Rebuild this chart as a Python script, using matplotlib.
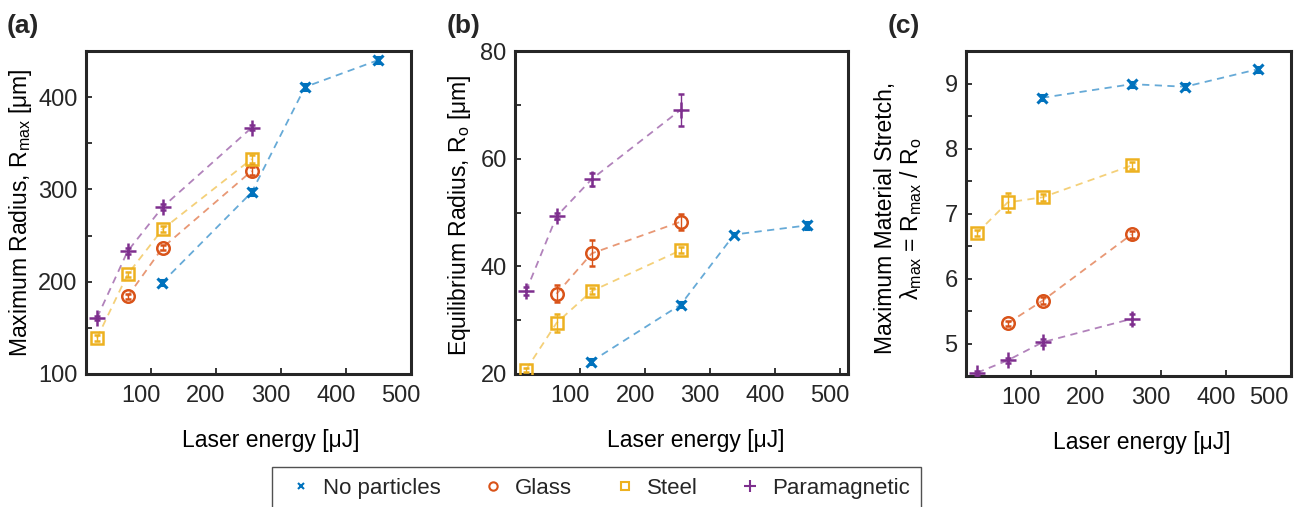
import numpy as np
import matplotlib
matplotlib.use('Agg')
import matplotlib.pyplot as plt
import matplotlib.transforms as mtransforms
from matplotlib.lines import Line2D
from matplotlib.ticker import MultipleLocator

plt.rcParams['font.family'] = ['Liberation Sans', 'DejaVu Sans']
plt.rcParams['mathtext.fontset'] = 'custom'
plt.rcParams['mathtext.rm'] = 'Liberation Sans'
plt.rcParams['mathtext.it'] = 'Liberation Sans:italic'
plt.rcParams['mathtext.bf'] = 'Liberation Sans:bold'
plt.rcParams['text.color'] = '#262626'
plt.rcParams['xtick.color'] = '#262626'
plt.rcParams['ytick.color'] = '#262626'

## Data

series_names = ['No particles', 'Glass', 'Steel', 'Paramagnetic']
colors = ['#0072BD', '#D95319', '#EDB120', '#7E2F8E']
markers = ['x', 'o', 's', '+']
msizes = [7, 9, 8, 11]

# laser energy [uJ]
e_none = [117, 255, 337, 449]
e_glass = [64, 118, 255]
e_steel = [17, 64, 118, 255]
e_para = [17, 64, 118, 255]

# (a) maximum radius [um]
rmax_none = [199, 297, 411, 440]
rmax_glass = [184, 237, 320]
rmax_steel = [139, 208, 257, 333]
rmax_para = [161, 233, 281, 367]
rmax_none_err = [3, 3, 3, 3]
rmax_glass_err = [3, 3, 4]
rmax_steel_err = [3, 3, 3, 4]
rmax_para_err = [2, 3, 3, 3]

# (b) equilibrium radius [um]
r0_none = [22.3, 32.9, 45.9, 47.6]
r0_glass = [34.9, 42.4, 48.3]
r0_steel = [20.8, 29.5, 35.4, 43.0]
r0_para = [35.4, 49.3, 56.2, 69.1]
r0_none_err = [0.4, 0.4, 0.3, 0.6]
r0_glass_err = [1.6, 2.4, 1.5]
r0_steel_err = [0.4, 1.7, 0.6, 0.5]
r0_para_err = [0.7, 0.6, 1.2, 3.0]

# (c) maximum stretch
lam_none = [8.78, 8.99, 8.95, 9.22]
lam_glass = [5.31, 5.66, 6.68]
lam_steel = [6.70, 7.17, 7.25, 7.74]
lam_para = [4.55, 4.74, 5.02, 5.38]
lam_none_err = [0.04, 0.04, 0.04, 0.04]
lam_glass_err = [0.04, 0.05, 0.05]
lam_steel_err = [0.05, 0.15, 0.05, 0.05]
lam_para_err = [0.03, 0.04, 0.05, 0.08]

energies = [e_none, e_glass, e_steel, e_para]

#%% Figure
W, H = 1294, 507
fig = plt.figure(figsize=(W / 100, H / 100), dpi=100)


def px_axes(l, r, t, b):
    return fig.add_axes([l / W, (H - b) / H, (r - l) / W, (b - t) / H])


ax_a = px_axes(86, 411, 51, 374)
ax_b = px_axes(515, 848, 51, 374)
ax_c = px_axes(966, 1291, 51, 376)


def draw_panel(ax, vals, errs):
    for i in range(4):
        ax.plot(energies[i], vals[i], color=colors[i], alpha=0.6, lw=1.3,
                linestyle=(0, (4, 3)), zorder=2)
        ax.errorbar(energies[i], vals[i], yerr=errs[i], fmt=markers[i],
                    color=colors[i], ms=msizes[i],
                    mew=2.2 if markers[i] == 'x' else 1.8, mfc='none',
                    elinewidth=1.0, capsize=2.5, capthick=1.0, zorder=3)


draw_panel(ax_a, [rmax_none, rmax_glass, rmax_steel, rmax_para],
           [rmax_none_err, rmax_glass_err, rmax_steel_err, rmax_para_err])
draw_panel(ax_b, [r0_none, r0_glass, r0_steel, r0_para],
           [r0_none_err, r0_glass_err, r0_steel_err, r0_para_err])
draw_panel(ax_c, [lam_none, lam_glass, lam_steel, lam_para],
           [lam_none_err, lam_glass_err, lam_steel_err, lam_para_err])

ax_a.set_xlim(0, 500)
ax_b.set_xlim(0, 512)
ax_c.set_xlim(0, 500)
ax_a.set_ylim(100, 450)
ax_b.set_ylim(20, 80)
ax_c.set_ylim(4.5, 9.5)

ax_a.set_yticks([100, 200, 300, 400])
ax_a.yaxis.set_minor_locator(MultipleLocator(50))
ax_b.set_yticks([20, 40, 60, 80])
ax_b.yaxis.set_minor_locator(MultipleLocator(10))
ax_c.set_yticks([5, 6, 7, 8, 9])
ax_c.yaxis.set_minor_locator(MultipleLocator(0.5))

shift = mtransforms.ScaledTranslation(-0.10, 0, fig.dpi_scale_trans)
for ax in [ax_a, ax_b, ax_c]:
    ax.set_xticks([100, 200, 300, 400, 500])
    for sp in ax.spines.values():
        sp.set_linewidth(2.2)
        sp.set_color('#262626')
    ax.tick_params(which='both', direction='in', labelsize=17, pad=6,
                   width=1.3, length=4)
    ax.tick_params(axis='x', pad=8)
    for lab in ax.get_xticklabels():
        lab.set_transform(lab.get_transform() + shift)

# last label of (c) is pulled in to stay inside the figure
extra = mtransforms.ScaledTranslation(-0.12, 0, fig.dpi_scale_trans)
lab_last = ax_c.get_xticklabels()[-1]
lab_last.set_transform(lab_last.get_transform() + extra)

# axis labels
for ax, xc in [(ax_a, 0.569), (ax_b, 0.544), (ax_c, 0.541)]:
    ax.set_xlabel('Laser energy [μJ]', fontsize=16.5)
    ax.xaxis.set_label_coords(xc, -0.17)

ax_a.set_ylabel('Maximum Radius, R$_\\mathrm{max}$ [μm]', fontsize=16.5)
ax_b.set_ylabel('Equilibrium Radius, R$_\\mathrm{o}$ [μm]', fontsize=16.5)
ax_c.set_ylabel('Maximum Material Stretch,\nλ$_\\mathrm{max}$ = R$_\\mathrm{max}$ / R$_\\mathrm{o}$',
                fontsize=16.5, linespacing=1.05)
for ax, xc, yc in [(ax_a, -0.203, 0.5), (ax_b, -0.168, 0.49),
                   (ax_c, -0.205, 0.485)]:
    ax.yaxis.label.set_va('center')
    ax.yaxis.set_label_coords(xc, yc)

# panel letters
for xpx, txt in [(7, '(a)'), (447, '(b)'), (888, '(c)')]:
    fig.text(xpx / W, 1 - 26 / H, txt, fontsize=19, fontweight='bold',
             ha='left', va='center')

# legend
handles = [Line2D([], [], ls='none', marker=markers[i], color=colors[i],
                  ms=[5, 6, 6, 8][i], mew=1.5, mfc='none')
           for i in range(4)]
leg = fig.legend(handles, series_names, loc='upper left',
                 bbox_to_anchor=(272 / W, 1 - 467 / H), ncol=4, fontsize=16,
                 frameon=True, fancybox=False, edgecolor='#262626',
                 handlelength=1.6, handletextpad=0.2, columnspacing=1.55,
                 borderpad=0.5, borderaxespad=0)
leg.get_frame().set_linewidth(1.0)

fig.savefig('out.png', dpi=100)
